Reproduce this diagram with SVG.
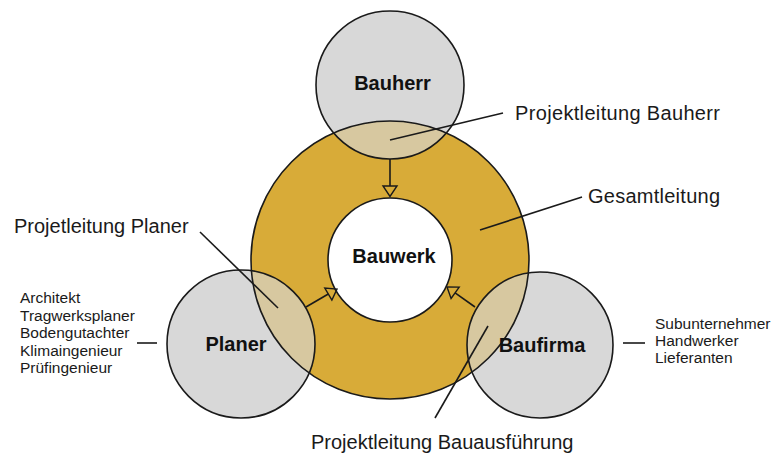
<svg xmlns="http://www.w3.org/2000/svg" width="773" height="456" viewBox="0 0 773 456">
<style>
.out{fill:none;stroke:#1a1a1a;stroke-width:1.6}
.gray{fill:#d8d8d8}
.lens{fill:#d7c8a0}
.ln{stroke:#1a1a1a;stroke-width:1.6;fill:none}
.ah{fill:none;stroke:#1a1a1a;stroke-width:1.4;stroke-linejoin:miter}
.lbl{font-family:"Liberation Sans",Arial,sans-serif;font-size:20px;fill:#1a1a1a}
.sm{font-family:"Liberation Sans",Arial,sans-serif;font-size:15.5px;fill:#1a1a1a}
.nd{font-family:"Liberation Sans",Arial,sans-serif;font-size:20px;font-weight:bold;fill:#111;text-anchor:middle}
</style>
<defs>
<clipPath id="ringClip"><circle cx="390" cy="260" r="139"/></clipPath>
</defs>
<rect width="773" height="456" fill="#ffffff"/>
<g id="gesamtleitung">
<path d="M390,121 a139,139 0 1,0 0.01,0 Z M390,198 a62,62 0 1,1 -0.01,0 Z" fill="#d8ab38" fill-rule="evenodd"/>
</g>
<g id="bauwerk">
<circle cx="390" cy="260" r="62" fill="#ffffff"/>
</g>
<g id="bauherr">
<circle cx="390" cy="85" r="74" class="gray"/>
<circle cx="390" cy="85" r="74" class="lens" clip-path="url(#ringClip)"/>
</g>
<g id="planer">
<circle cx="241" cy="344" r="74" class="gray"/>
<circle cx="241" cy="344" r="74" class="lens" clip-path="url(#ringClip)"/>
</g>
<g id="baufirma">
<circle cx="540" cy="345" r="73" class="gray"/>
<circle cx="540" cy="345" r="73" class="lens" clip-path="url(#ringClip)"/>
</g>
<g id="outlines">
<circle cx="390" cy="260" r="139" class="out"/>
<circle cx="390" cy="260" r="62" class="out"/>
<circle cx="390" cy="85" r="74" class="out"/>
<circle cx="241" cy="344" r="74" class="out"/>
<circle cx="540" cy="345" r="73" class="out"/>
</g>
<g id="connectors">
<line x1="390" y1="159" x2="390" y2="186" class="ln"/>
<polygon points="383,186 397,186 390,196.5" class="ah"/>
<line x1="306" y1="307" x2="328.3" y2="294" class="ln"/>
<polygon points="331.9,300.1 324.8,288 337,289" class="ah"/>
<line x1="475" y1="307" x2="455.1" y2="292.8" class="ln"/>
<polygon points="459.2,287.1 451.1,298.5 447,287" class="ah"/>
<line x1="390" y1="140" x2="503" y2="113" class="ln"/>
<line x1="480" y1="230" x2="582" y2="197" class="ln"/>
<line x1="200" y1="232" x2="278" y2="308" class="ln"/>
<line x1="488" y1="326" x2="435" y2="418" class="ln"/>
<line x1="137" y1="343" x2="157" y2="343" class="ln"/>
<line x1="623" y1="343" x2="645" y2="343" class="ln"/>
</g>
<g id="labels">
<text x="392.5" y="90" class="nd">Bauherr</text>
<text x="394" y="263" class="nd">Bauwerk</text>
<text x="236" y="351" class="nd">Planer</text>
<text x="542" y="352" class="nd">Baufirma</text>
<text x="515" y="120" class="lbl" textLength="205">Projektleitung Bauherr</text>
<text x="588" y="203" class="lbl" textLength="132">Gesamtleitung</text>
<text x="14" y="233" class="lbl">Projetleitung Planer</text>
<text x="311" y="449" class="lbl">Projektleitung Bauausführung</text>
<text class="sm" x="20" y="303">Architekt</text>
<text class="sm" x="20" y="320.5">Tragwerksplaner</text>
<text class="sm" x="20" y="338">Bodengutachter</text>
<text class="sm" x="20" y="355.5">Klimaingenieur</text>
<text class="sm" x="20" y="373">Prüfingenieur</text>
<text class="sm" x="655" y="329">Subunternehmer</text>
<text class="sm" x="655" y="346">Handwerker</text>
<text class="sm" x="655" y="363">Lieferanten</text>
</g>
</svg>
